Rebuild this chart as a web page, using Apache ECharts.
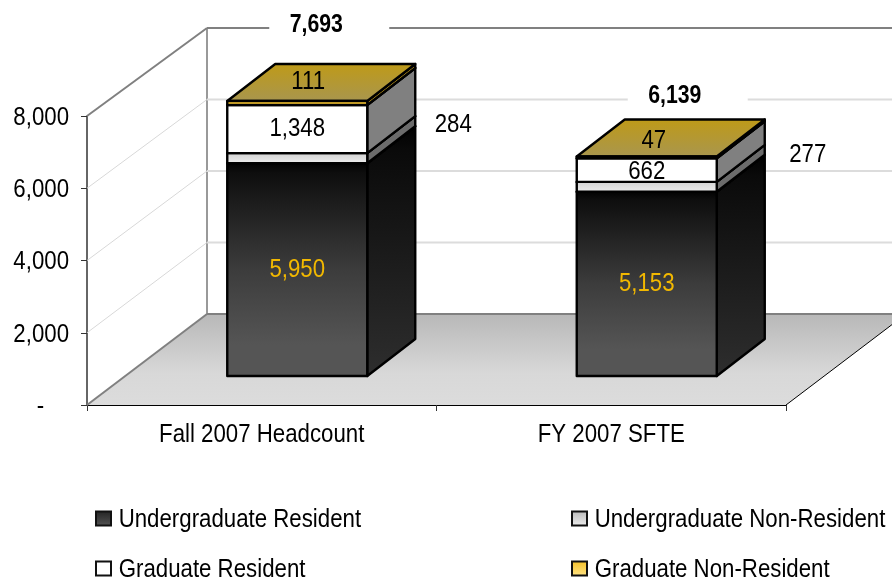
<!DOCTYPE html>
<html>
<head>
<meta charset="utf-8">
<style>html,body{margin:0;padding:0;background:#fff}#c{width:892px;height:582px}</style>
<script src="https://cdn.jsdelivr.net/npm/echarts@6/dist/echarts.min.js"></script>
</head>
<body>
<div id="c"></div>
<script>
const categories = ['Fall 2007 Headcount', 'FY 2007 SFTE'];
const undergradResident = [5950, 5153];
const undergradNonResident = [284, 277];
const gradResident = [1348, 662];
const gradNonResident = [111, 47];
const totals = [7693, 6139];
const yTicks = [0, 2000, 4000, 6000, 8000];

const FONT = '"Liberation Sans",Arial,sans-serif';
const FS = 25;
const NARROW = 0.89, NARROW_BOLD = 0.85, TEXT_DY = 2;
const WALL = [120, -91];        // depth of the floor
const BAR_SHIFT = [35.5, -29];  // bar front face relative to axis plane
const BAR_DEPTH = [48, -37];    // bar depth
const BAR_W = 140;
const SCALE = 286 / 289;        // foreshortening of the bars and back wall
const fmt = v => v.toLocaleString('en-US');
const linear = (...stops) => ({type: 'linear', x: 0, y: 0, x2: 0, y2: 1, colorStops: stops.map(s => ({offset: s[0], color: s[1]}))});

const looks = [
  {front: linear([0, '#000000'], [0.05, '#0e0e0e'], [0.5, '#3c3c3c'], [0.85, '#555555'], [1, '#555555']),
   side: linear([0, '#000000'], [0.1, '#0a0a0a'], [1, '#2e2e2e']), top: '#111', label: '#F2B800', offs: [[0, -2], [0, -2]],
   legend: linear([0, '#222222'], [1, '#555555'])},
  {front: linear([0, '#d0d0d0'], [1, '#eeeeee']), side: '#6b6b6b', top: '#888', label: '#000', offs: [[156, -35], [161, -34]],
   legend: linear([0, '#b8b8b8'], [1, '#eeeeee'])},
  {front: '#ffffff', side: '#808080', top: '#808080', label: '#000', offs: [[0, -2], [0, 0]], legend: '#fff'},
  {front: '#FFCC33', side: '#C9A020', top: linear([0, '#BF9A17'], [1, '#A8964F']), label: '#000', offs: [[11, -23], [7, -18]],
   legend: linear([0, '#F5C026'], [1, '#FFE488'])}
];
const stack = [undergradResident, undergradNonResident, gradResident, gradNonResident];
const names = ['Undergraduate Resident', 'Undergraduate Non-Resident', 'Graduate Resident', 'Graduate Non-Resident'];
const totalOffs = [[19, -78], [28, -62]];

function poly(points, fill) {
  return {type: 'polygon', shape: {points}, style: {fill, stroke: '#000', lineWidth: 2.4, lineJoin: 'round'}};
}
function segment(k) {
  return function (params, api) {
    const c = api.value(0), v = api.value(1), base = api.value(2);
    const cx = api.coord([c, 0])[0] + BAR_SHIFT[0];
    const y0 = api.coord([c, 0])[1] + BAR_SHIFT[1];
    const yb = y0 - api.size([0, base])[1] * SCALE;
    const yt = y0 - api.size([0, base + v])[1] * SCALE;
    const l = cx - BAR_W / 2, r = cx + BAR_W / 2, dx = BAR_DEPTH[0], dy = BAR_DEPTH[1];
    const look = looks[k], off = look.offs[c];
    return {type: 'group', children: [
      poly([[r, yb], [r + dx, yb + dy], [r + dx, yt + dy], [r, yt]], look.side),
      poly([[l, yt], [l + dx, yt + dy], [r + dx, yt + dy], [r, yt]], look.top),
      poly([[l, yb], [r, yb], [r, yt], [l, yt]], look.front),
      {type: 'text', z2: 100, style: {text: fmt(v), x: cx + off[0], y: (yb + yt) / 2 + off[1], fill: look.label,
        font: FS + 'px ' + FONT, align: 'center', verticalAlign: 'middle'}}
    ]};
  };
}
function frame(params, api) {
  const v = api.value(0), cs = params.coordSys;
  const x0 = cs.x, y = api.coord([0, v])[1], yBase = cs.y + cs.height;
  const wy = yBase + WALL[1] - (yBase - y) * SCALE, wx = x0 + WALL[0];
  const right = x0 + cs.width + WALL[0];
  const strong = v === 0 || v === yTicks[yTicks.length - 1];
  const children = [];
  if (v === 0) {
    children.push({type: 'polygon', shape: {points: [[x0, yBase], [wx, wy], [right, wy], [x0 + cs.width, yBase]]},
      style: {fill: linear([0, '#b8b8b8'], [0.65, '#d8d8d8'], [1, '#dcdcdc'])}});
    children.push({type: 'line', shape: {x1: x0 + cs.width, y1: yBase, x2: right, y2: wy}, style: {stroke: '#000', lineWidth: 1}});
    const top = yBase + WALL[1] - cs.height * SCALE;
    children.push({type: 'line', shape: {x1: wx, y1: wy, x2: wx, y2: top}, style: {stroke: '#999999', lineWidth: 2}});
  }
  children.push({type: 'line', shape: {x1: x0, y1: y, x2: wx, y2: wy}, style: {stroke: strong ? '#808080' : '#d8d8d8', lineWidth: strong ? 2 : 1}});
  children.push({type: 'line', shape: {x1: wx, y1: wy, x2: right, y2: wy}, style: {stroke: strong ? '#808080' : '#dcdcdc', lineWidth: 2}});
  return {type: 'group', children};
}
function totalItem(params, api) {
  const c = api.value(0), v = api.value(1);
  const cx = api.coord([c, 0])[0] + BAR_SHIFT[0];
  const y0 = api.coord([c, 0])[1] + BAR_SHIFT[1];
  const off = totalOffs[c];
  const yt = y0 - api.size([0, v])[1] * SCALE;
  return {type: 'group', children: [
    {type: 'rect', z2: 99, shape: {x: cx + off[0] - 47, y: yt + off[1] - 12, width: 120, height: 26}, style: {fill: '#fff'}},
    {type: 'text', z2: 100, style: {text: fmt(v), x: cx + off[0], y: yt + off[1], fill: '#000',
      font: 'bold ' + FS + 'px ' + FONT, align: 'center', verticalAlign: 'middle'}}
  ]};
}

const chart = echarts.init(document.getElementById('c'), null, {renderer: 'canvas'});
const series = [
  {type: 'custom', name: '_frame', silent: true, z: 1, renderItem: frame, coordinateSystem: 'cartesian2d',
    data: yTicks.map(v => [v]), encode: {y: 0}, clip: false},
  {type: 'custom', name: '_totals', silent: true, z: 3, renderItem: totalItem, coordinateSystem: 'cartesian2d',
    data: totals.map((v, i) => [i, v]), encode: {x: 0, y: 1}, clip: false}
];
stack.forEach((arr, k) => {
  series.push({type: 'custom', name: names[k], silent: true, z: 4 + k, renderItem: segment(k), coordinateSystem: 'cartesian2d',
    itemStyle: {color: looks[k].legend, borderColor: '#111', borderWidth: 2},
    data: arr.map((v, i) => [i, v, stack.slice(0, k).reduce((s, a) => s + a[i], 0)]),
    encode: {x: 0, y: 1}, clip: false});
});
const legendBase = {orient: 'vertical', top: 506, itemGap: 25, itemWidth: 15, itemHeight: 14, icon: 'rect',
  selectedMode: false, textStyle: {fontFamily: FONT, fontSize: FS, color: '#000', padding: [0, 0, 0, 3]}, padding: 0};
chart.setOption({
  animation: false,
  tooltip: {show: false},
  grid: {left: 87, right: 106, top: 116, bottom: 177},
  legend: [
    Object.assign({}, legendBase, {left: 95, data: [names[0], names[2]]}),
    Object.assign({}, legendBase, {left: 571, data: [names[1], names[3]]})
  ],
  xAxis: {type: 'category', data: categories, boundaryGap: true,
    axisLine: {lineStyle: {color: '#000', width: 1}},
    axisTick: {show: true, length: 6, lineStyle: {color: '#333', width: 1}},
    axisLabel: {fontFamily: FONT, fontSize: FS, color: '#000', margin: 16}},
  yAxis: {type: 'value', min: 0, max: 8000, interval: 2000, splitLine: {show: false},
    axisLine: {show: true, lineStyle: {color: '#333', width: 1.5}},
    axisTick: {show: true, length: 6, lineStyle: {color: '#333', width: 1}},
    axisLabel: {fontFamily: FONT, fontSize: FS, color: '#000', margin: 18,
      formatter: v => v === 0 ? '-\u00a0\u00a0\u00a0\u00a0' : fmt(v)}},
  series
});

// The reference uses a condensed face; no such font is installed, so condense all real text horizontally.
function condense(el) {
  if (el.style && el.style.text != null && el.type === 'text') {
    const bold = /bold/.test(el.style.font || '');
    el.originX = el.style.x || 0;
    el.scaleX = bold ? NARROW_BOLD : NARROW;
    el.y = (el.y || 0) + TEXT_DY;
    el.markRedraw();
  }
  if (el.children && typeof el.children === 'function') el.children().forEach(condense);
}
chart.getZr().storage.getRoots().forEach(condense);
chart.getZr().refresh();
</script>
</body>
</html>
